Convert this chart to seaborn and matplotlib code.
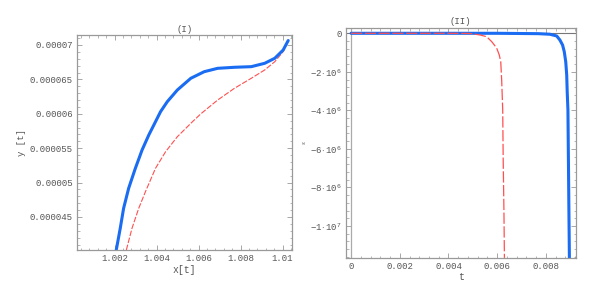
import matplotlib
matplotlib.use("Agg")
import matplotlib.pyplot as plt
import seaborn as sns
import pandas as pd
from matplotlib.ticker import FixedLocator, FixedFormatter, AutoMinorLocator

# ---------------- data ----------------
# Panel (I): y[t] vs x[t]
blue1_x = [1.00208, 1.00227, 1.00243, 1.00267, 1.00299, 1.00331, 1.00363, 1.00387,
           1.00419, 1.00451, 1.00499, 1.00563, 1.00627, 1.00691, 1.00771, 1.00851,
           1.00915, 1.00963, 1.01003, 1.01027]
blue1_y = [4.020e-5, 4.336e-5, 4.626e-5, 4.917e-5, 5.208e-5, 5.474e-5, 5.692e-5, 5.837e-5,
           6.031e-5, 6.176e-5, 6.346e-5, 6.516e-5, 6.612e-5, 6.661e-5, 6.676e-5, 6.685e-5,
           6.734e-5, 6.807e-5, 6.927e-5, 7.065e-5]
red1_x = [1.00256, 1.00283, 1.00315, 1.00347, 1.00395, 1.00443, 1.00499, 1.00571,
          1.00611, 1.00691, 1.00771, 1.00851, 1.00915, 1.00963, 1.01003, 1.01027]
red1_y = [4.020e-5, 4.336e-5, 4.626e-5, 4.868e-5, 5.208e-5, 5.449e-5, 5.667e-5, 5.885e-5,
          6.000e-5, 6.200e-5, 6.371e-5, 6.516e-5, 6.637e-5, 6.757e-5, 6.903e-5, 7.065e-5]

# Panel (II): epsilon vs t
blue2_t = [0.0, 0.0060, 0.0077, 0.00817, 0.00845, 0.00858, 0.00869, 0.00876, 0.00882,
           0.00886, 0.00888, 0.00891, 0.00893, 0.00895, 0.00897]
blue2_e = [0.0, 0.0, -0.02e6, -0.05e6, -0.14e6, -0.35e6, -0.61e6, -0.96e6, -1.48e6,
           -2.17e6, -3.03e6, -3.98e6, -6.58e6, -9.18e6, -11.66e6]
red2_t = [0.0, 0.0040, 0.00489, 0.0053, 0.00557, 0.00578, 0.00598, 0.00609, 0.00615,
          0.00619, 0.00623, 0.00625, 0.00628, 0.0063]
red2_e = [0.0, 0.0, -0.01e6, -0.088e6, -0.177e6, -0.436e6, -0.764e6, -1.13e6, -1.49e6,
          -2.51e6, -3.98e6, -6.58e6, -9.18e6, -11.66e6]

x1_ticks = [1.002, 1.004, 1.006, 1.008, 1.010]
x1_labels = ["1.002", "1.004", "1.006", "1.008", "1.01"]
y1_ticks = [0.000045, 0.00005, 0.000055, 0.00006, 0.000065, 0.00007]
y1_labels = ["0.000045", "0.00005", "0.000055", "0.00006", "0.000065", "0.00007"]
x2_ticks = [0.0, 0.002, 0.004, 0.006, 0.008]
x2_labels = ["0", "0.002", "0.004", "0.006", "0.008"]
y2_ticks = [0.0, -2e6, -4e6, -6e6, -8e6, -1e7]
y2_labels = ["0", r"$-2\cdot10^{6}$", r"$-4\cdot10^{6}$", r"$-6\cdot10^{6}$",
             r"$-8\cdot10^{6}$", r"$-1\cdot10^{7}$"]

# ---------------- style ----------------
sns.set_style("ticks")
plt.rcParams["font.family"] = ["Liberation Mono", "DejaVu Sans Mono"]
plt.rcParams["mathtext.fontset"] = "custom"
plt.rcParams["mathtext.rm"] = "Liberation Mono"
plt.rcParams["mathtext.it"] = "Liberation Mono"
plt.rcParams["mathtext.default"] = "rm"

TXT = "#555555"
FRAME = "#999999"
BLUE = "#1a6cf2"
RED = "#ff5050"
FS = 6.5

fig = plt.figure(figsize=(5.9, 2.95), dpi=100)
ax1 = fig.add_axes([0.1305, 0.1525, 0.3644, 0.7288])
ax2 = fig.add_axes([0.586, 0.1264, 0.3898, 0.7797])

d1b = pd.DataFrame({"x": blue1_x, "y": blue1_y})
d1r = pd.DataFrame({"x": red1_x, "y": red1_y})
d2b = pd.DataFrame({"t": blue2_t, "e": blue2_e})
d2r = pd.DataFrame({"t": red2_t, "e": red2_e})

# Panel I
sns.lineplot(data=d1r, x="x", y="y", ax=ax1, color=RED, lw=0.8, sort=False)
ax1.lines[-1].set_dashes([5, 1.5])
sns.lineplot(data=d1b, x="x", y="y", ax=ax1, color=BLUE, lw=2.2, sort=False)
for ln in ax1.lines:
    ln.set_solid_joinstyle("round")
ax1.set_xlim(1.00021, 1.01045)
ax1.set_ylim(0.0000402, 0.00007145)

# Panel II
ax2.axhline(0, color="#777777", lw=0.8, zorder=1)
ax2.axvline(0, color="#aaaaaa", lw=0.9, zorder=1)
sns.lineplot(data=d2b, x="t", y="e", ax=ax2, color=BLUE, lw=2.2, sort=False)
sns.lineplot(data=d2r, x="t", y="e", ax=ax2, color=RED, lw=0.9, sort=False)
ax2.lines[-1].set_dashes([9, 2])
for ln in ax2.lines:
    ln.set_solid_joinstyle("round")
ax2.set_xlim(-0.00022, 0.00923)
ax2.set_ylim(-1.165e7, 0.29e6)

for ax, xt, xl, yt, yl in [(ax1, x1_ticks, x1_labels, y1_ticks, y1_labels),
                           (ax2, x2_ticks, x2_labels, y2_ticks, y2_labels)]:
    ax.xaxis.set_major_locator(FixedLocator(xt))
    ax.xaxis.set_major_formatter(FixedFormatter(xl))
    ax.yaxis.set_major_locator(FixedLocator(yt))
    ax.yaxis.set_major_formatter(FixedFormatter(yl))
    ax.xaxis.set_minor_locator(AutoMinorLocator(5))
    ax.yaxis.set_minor_locator(AutoMinorLocator(5))
    ax.tick_params(which="both", direction="in", top=True, right=True,
                   color=FRAME, labelcolor=TXT, labelsize=FS, pad=3)
    ax.tick_params(which="major", length=3.5, width=0.6)
    ax.tick_params(which="minor", length=1.8, width=0.5)
    for s in ax.spines.values():
        s.set_color(FRAME)
        s.set_linewidth(0.9)

ax1.set_title("(I)", fontsize=FS, color=TXT, pad=2)
ax1.set_xlabel("x[t]", fontsize=FS + 0.5, color=TXT, labelpad=1)
ax1.set_ylabel("y [t]", fontsize=FS, color=TXT, labelpad=3)
ax2.set_title("(II)", fontsize=FS, color=TXT, pad=3)
ax2.set_xlabel("t", fontsize=FS + 0.5, color=TXT, labelpad=1)
ax2.set_ylabel("ε", fontsize=4, color=TXT, labelpad=2)

fig.savefig("out.png", dpi=100)
